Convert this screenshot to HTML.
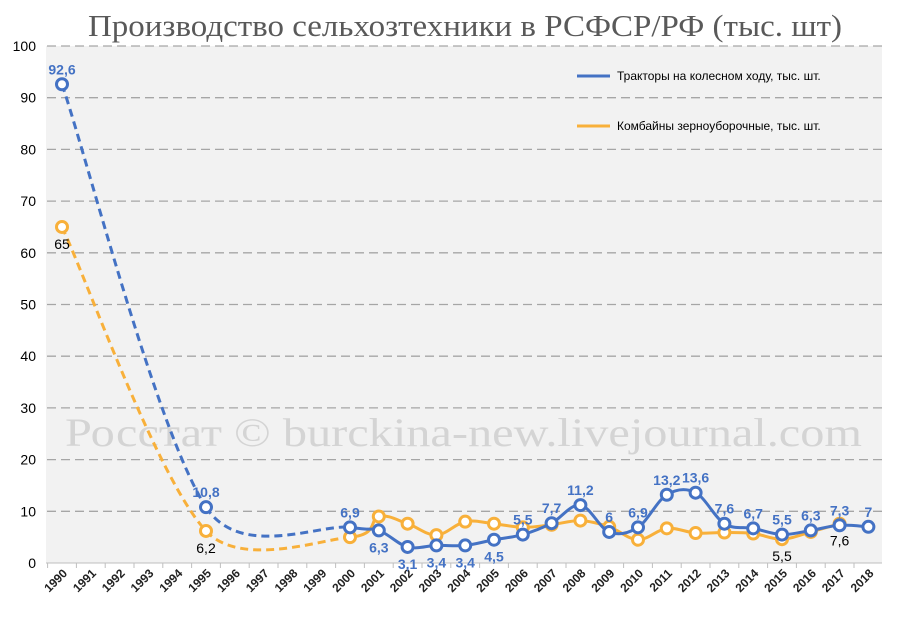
<!DOCTYPE html>
<html><head><meta charset="utf-8"><style>
body{margin:0;background:#fff;}
svg text{font-family:"Liberation Sans",sans-serif;}
</style></head><body>
<svg width="900" height="615" viewBox="0 0 900 615">
<rect x="0" y="0" width="900" height="615" fill="#fff"/>
<rect x="46" y="46" width="836" height="517" fill="#f2f2f2"/>
<text x="88" y="36" textLength="754" lengthAdjust="spacingAndGlyphs" font-size="31" fill="#595959" style="font-family:'Liberation Serif',serif">Производство сельхозтехники в РСФСР/РФ (тыс. шт)</text>
<g id="grid"></g>
<text x="65" y="446" textLength="797" lengthAdjust="spacingAndGlyphs" font-size="40" fill="#d4d4d4" style="font-family:'Liberation Serif',serif">Росстат © burckina-new.livejournal.com</text>
<g id="series"></g>
<g>
<line x1="577" y1="76" x2="610" y2="76" stroke="#4472c4" stroke-width="3"/>
<text x="617" y="80" font-size="12" fill="#000">Тракторы на колесном ходу, тыс. шт.</text>
<line x1="577" y1="126" x2="610" y2="126" stroke="#f8b03a" stroke-width="3"/>
<text x="617" y="130" font-size="12" fill="#000">Комбайны зерноуборочные, тыс. шт.</text>
</g>
</svg>
<script>
const years=[1990,1991,1992,1993,1994,1995,1996,1997,1998,1999,2000,2001,2002,2003,2004,2005,2006,2007,2008,2009,2010,2011,2012,2013,2014,2015,2016,2017,2018];
const yTicks=[0,10,20,30,40,50,60,70,80,90,100];
const tractorYears=[1990,1995,2000,2001,2002,2003,2004,2005,2006,2007,2008,2009,2010,2011,2012,2013,2014,2015,2016,2017,2018];
const tractorValues=[92.6,10.8,6.9,6.3,3.1,3.4,3.4,4.5,5.5,7.7,11.2,6,6.9,13.2,13.6,7.6,6.7,5.5,6.3,7.3,7];
const tractorLabels=["92,6","10,8","6,9","6,3","3,1","3,4","3,4","4,5","5,5","7,7","11,2","6","6,9","13,2","13,6","7,6","6,7","5,5","6,3","7,3","7"];
const combineYears=[1990,1995,2000,2001,2002,2003,2004,2005,2006,2007,2008,2009,2010,2011,2012,2013,2014,2015,2016,2017];
const combineValues=[65,6.2,5.0,9.0,7.6,5.4,8.0,7.6,6.9,7.4,8.2,7.0,4.5,6.7,5.8,5.9,5.7,4.6,6.0,7.6];
const combineLabels={1990:"65",1995:"6,2",2015:"5,5",2017:"7,6"};
const tractorBelow=[2001,2002,2003,2004,2005];
const NS="http://www.w3.org/2000/svg";
const X=y=>62+(y-1990)*28.8;
const Y=v=>563-v*5.17;
function mk(t,a,p){const e=document.createElementNS(NS,t);for(const k in a)e.setAttribute(k,a[k]);p.appendChild(e);return e;}
const grid=document.getElementById('grid');
yTicks.forEach(t=>{
 if(t>0){const l=mk('line',{x1:47,x2:882,y1:Y(t),y2:Y(t),stroke:'#a6a6a6','stroke-width':1.3,'stroke-dasharray':'9,5'},grid);
 
 }
 const tx=mk('text',{x:36,y:Y(t)+5,'text-anchor':'end','font-size':14,fill:'#000'},grid);tx.textContent=t;
 
 
});
mk('line',{x1:46,x2:882,y1:563,y2:563,stroke:'#bfbfbf'},grid);
years.forEach(y=>{
 mk('line',{x1:X(y)-14.4,x2:X(y)-14.4,y1:563,y2:568,stroke:'#bfbfbf'},grid);
 const tx=mk('text',{x:X(y)+6,y:574,'text-anchor':'end','font-size':12,'font-weight':'bold',fill:'#222',transform:`rotate(-45 ${X(y)+6} 574)`},grid);tx.textContent=y;
 
 
});
const S=document.getElementById('series');
function seg(p0,p1,p2,p3,t1,t2){
 const c1=[p1[0]+(p2[0]-p0[0])*t1,p1[1]+(p2[1]-p0[1])*t1],c2=[p2[0]-(p3[0]-p1[0])*t2,p2[1]-(p3[1]-p1[1])*t2];
 return `M${p1[0]},${p1[1]} C${c1[0]},${c1[1]} ${c2[0]},${c2[1]} ${p2[0]},${p2[1]}`;}
function series(ys,vs,color,name){
 const pts=ys.map((y,i)=>[X(y),Y(vs[i])]);
 for(let i=0;i<pts.length-1;i++){
  const p0=pts[i-1]||pts[i],p3=pts[i+2]||pts[i+1];
  const gap=ys[i+1]-ys[i]>1;
  const t1=(gap&&i>0)?0.12:0.17;
  const p=mk('path',{d:seg(p0,pts[i],pts[i+1],p3,t1,0.17),fill:'none',stroke:color,'stroke-width':3,'stroke-dasharray':gap?'8,5':'none'},S);
  
  
 }
 pts.forEach((p,i)=>{const c=mk('circle',{cx:p[0],cy:p[1],r:5.5,fill:'#fff',stroke:color,'stroke-width':3},S);
  
  });
}
series(combineYears,combineValues,'#f8b03a','combines');
series(tractorYears,tractorValues,'#4472c4','tractors');
combineYears.forEach((y,i)=>{if(combineLabels[y]){const t=mk('text',{x:X(y),y:Y(combineValues[i])+22,'text-anchor':'middle','font-size':14,fill:'#000'},S);t.textContent=combineLabels[y];
 
 }});
tractorYears.forEach((y,i)=>{const below=tractorBelow.includes(y);
 const t=mk('text',{x:X(y),y:below?Y(tractorValues[i])+22:Y(tractorValues[i])-10,'text-anchor':'middle','font-size':14,'font-weight':'bold',fill:'#4472c4'},S);t.textContent=tractorLabels[i];
 
 });
</script>
</body></html>
